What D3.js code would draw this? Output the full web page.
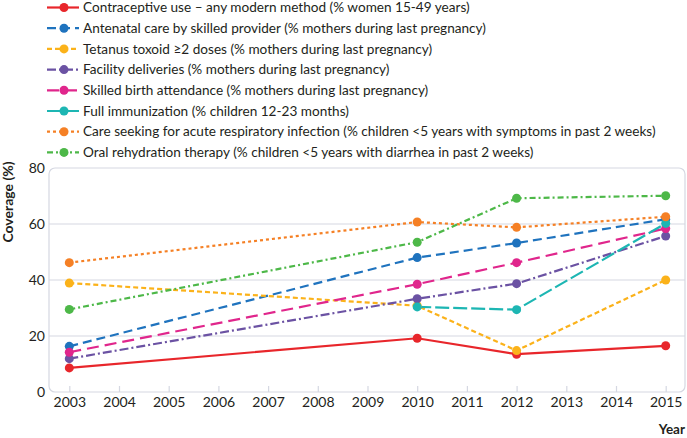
<!DOCTYPE html>
<html>
<head>
<meta charset="utf-8">
<script src="https://cdn.jsdelivr.net/npm/d3@7"></script>
<style>
  html, body { margin: 0; padding: 0; background: #fff; }
  svg { display: block; }
  text { font-family: Lato, "Open Sans", sans-serif; fill: #231f20; }
</style>
</head>
<body>
<svg id="chart" width="687" height="438"></svg>
<script>
const years = [2003, 2010, 2012, 2015];
const xTicks = [2003, 2004, 2005, 2006, 2007, 2008, 2009, 2010, 2011, 2012, 2013, 2014, 2015];
const yTicks = [0, 20, 40, 60, 80];

const seriesNames = [
  "Contraceptive use \u2013 any modern method (% women 15-49 years)",
  "Antenatal care by skilled provider (% mothers during last pregnancy)",
  "Tetanus toxoid \u22652 doses (% mothers during last pregnancy)",
  "Facility deliveries (% mothers during last pregnancy)",
  "Skilled birth attendance (% mothers during last pregnancy)",
  "Full immunization (% children 12-23 months)",
  "Care seeking for acute respiratory infection (% children <5 years with symptoms in past 2 weeks)",
  "Oral rehydration therapy (% children <5 years with diarrhea in past 2 weeks)"
];
const contraceptive = [8.6, 19.2, 13.5, 16.5];
const antenatal = [16.3, 48.0, 53.2, 61.7];
const tetanus = [38.9, 30.8, 14.8, 40.0];
const facility = [11.9, 33.3, 38.7, 55.7];
const skilled = [14.2, 38.5, 46.2, 58.4];
const immunization = [null, 30.4, 29.4, 60.2];
const careSeeking = [46.2, 60.7, 58.8, 62.6];
const ors = [29.5, 53.5, 69.2, 70.1];

const seriesValues = [contraceptive, antenatal, tetanus, facility, skilled, immunization, careSeeking, ors];
const colors = ["#e8262b", "#1f73be", "#fbb21a", "#6b52a3", "#e0268c", "#1db6b3", "#f58025", "#4db848"];
const dashes = ["none", "9,5", "5,3", "9,3,2,3", "12,6", "14,4", "3,3", "6,3,2,3"];

const svg = d3.select("#chart");
const x = d3.scaleLinear().domain([2003, 2015]).range([69.3, 665.7]);
const y = d3.scaleLinear().domain([0, 80]).range([392, 168]);

// frame
svg.append("rect")
  .attr("x", 49).attr("y", y(80)).attr("width", 636).attr("height", y(0) - y(80))
  .attr("rx", 6).attr("fill", "none").attr("stroke", "#d5d8e2").attr("stroke-width", 1.2);

// gridlines
svg.append("g").selectAll("line").data(yTicks.filter(d => d > 0 && d < 80)).join("line")
  .attr("x1", 49).attr("x2", 685)
  .attr("y1", d => y(d)).attr("y2", d => y(d))
  .attr("stroke", "#d5d8e2").attr("stroke-width", 1.2);

// x axis
const xAxis = d3.axisBottom(x).tickValues(xTicks).tickFormat(d3.format("d")).tickSizeInner(-6).tickSizeOuter(0).tickPadding(5);
const gx = svg.append("g").attr("transform", `translate(0,${y(0)})`).call(xAxis);
gx.select(".domain").remove();
gx.selectAll(".tick line").attr("stroke", "#d5d8e2").attr("stroke-width", 1.2);
gx.selectAll(".tick text").style("font-family", "Lato, sans-serif").style("font-size", "14px").attr("fill", "#231f20");

// y axis
const yAxis = d3.axisLeft(y).tickValues(yTicks).tickSize(0).tickPadding(4);
const gy = svg.append("g").attr("transform", `translate(49,0)`).call(yAxis);
gy.select(".domain").remove();
gy.selectAll(".tick text").style("font-family", "Lato, sans-serif").style("font-size", "14px").attr("fill", "#231f20");

// axis titles
svg.append("text").attr("transform", "translate(13,202) rotate(-90)")
  .attr("text-anchor", "middle").style("font-size", "14px").style("font-weight", "bold")
  .text("Coverage (%)");
svg.append("text").attr("x", 685).attr("y", 434).attr("text-anchor", "end")
  .style("font-size", "13.5px").style("font-weight", "bold").text("Year");

// lines
const line = d3.line().defined(d => d.v != null).x(d => x(d.year)).y(d => y(d.v));
seriesValues.forEach((vals, i) => {
  const pts = years.map((yr, j) => ({ year: yr, v: vals[j] }));
  svg.append("path").datum(pts)
    .attr("d", line).attr("fill", "none")
    .attr("stroke", colors[i]).attr("stroke-width", 2.2)
    .attr("stroke-dasharray", dashes[i]);
});
seriesValues.forEach((vals, i) => {
  const pts = years.map((yr, j) => ({ year: yr, v: vals[j] })).filter(d => d.v != null);
  svg.append("g").selectAll("circle").data(pts).join("circle")
    .attr("cx", d => x(d.year)).attr("cy", d => y(d.v)).attr("r", 4.5)
    .attr("fill", colors[i]);
});

// legend
const legend = svg.append("g");
seriesNames.forEach((name, i) => {
  const ly = 7.5 + i * 20.7;
  const g = legend.append("g").attr("transform", `translate(0,${ly})`);
  g.append("line").attr("x1", 47).attr("x2", 79).attr("y1", 0).attr("y2", 0)
    .attr("stroke", colors[i]).attr("stroke-width", 2.2).attr("stroke-dasharray", dashes[i]);
  g.append("circle").attr("cx", 64).attr("cy", 0).attr("r", 4.5).attr("fill", colors[i]);
  g.append("text").attr("x", 83).attr("y", 0).attr("dy", "0.35em")
    .style("font-size", "13.6px").text(name);
});
</script>
</body>
</html>
